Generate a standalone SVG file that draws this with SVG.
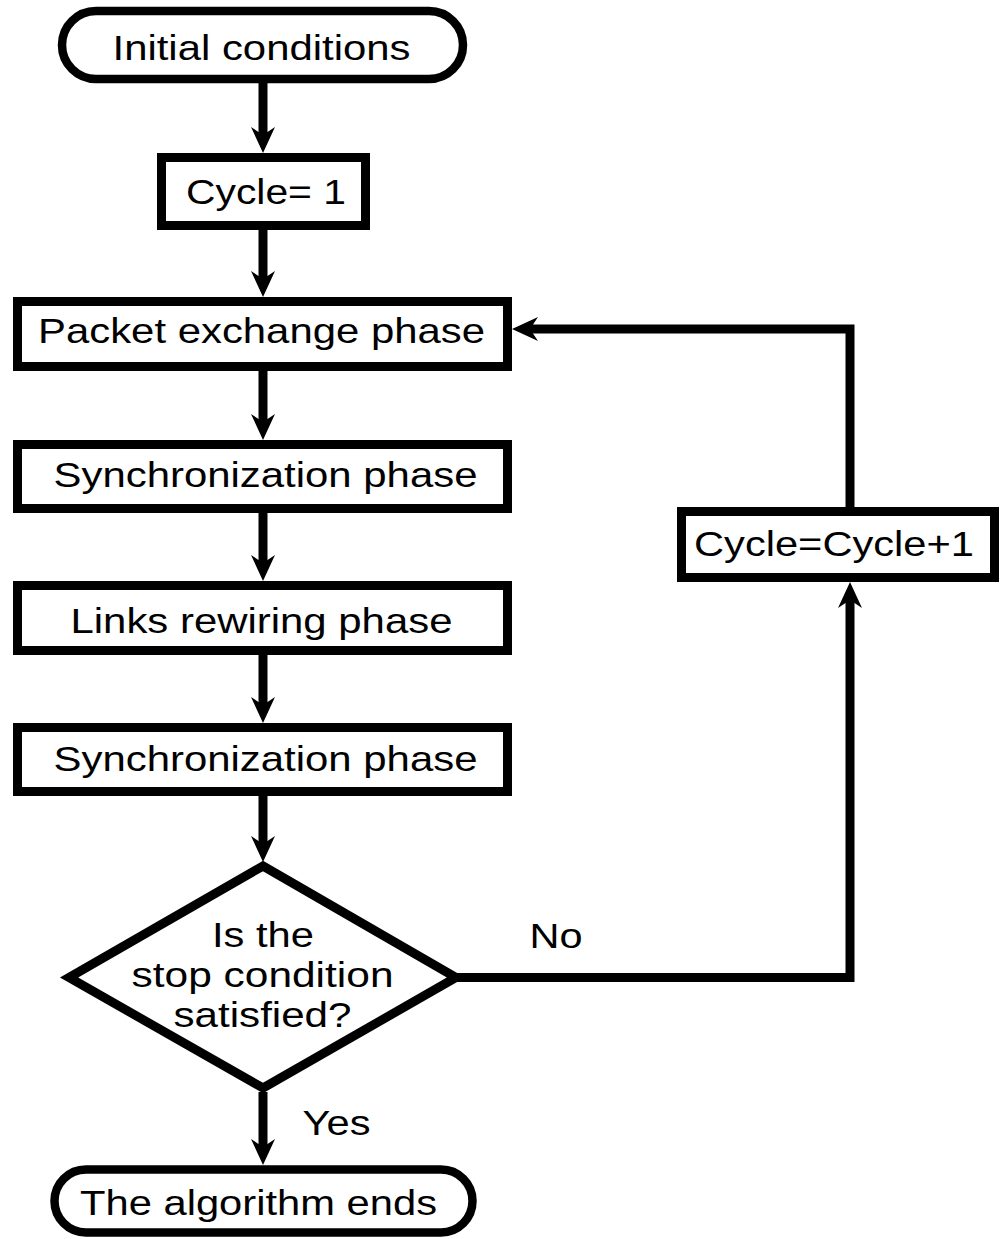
<svg xmlns="http://www.w3.org/2000/svg" width="1005" height="1239" viewBox="0 0 1005 1239">
<style>
.box{fill:#fff;stroke:#000;stroke-width:9}
.term{fill:#fff;stroke:#000;stroke-width:8.5}
.edge{fill:none;stroke:#000;stroke-width:9}
text{font-family:"Liberation Sans",Arial,sans-serif;font-size:35px;fill:#000;text-anchor:middle}
</style>
<defs>
<marker id="ah" viewBox="-13 -13 28 26" refX="0" refY="0" markerWidth="28" markerHeight="26" markerUnits="userSpaceOnUse" orient="auto" overflow="visible">
<path d="M14,0 L-12,-12 L-4,0 L-12,12 Z" fill="#000"/>
</marker>
</defs>
<rect width="1005" height="1239" fill="#fff"/>
<g id="connectors">
<path class="edge" d="M263,83 V139" marker-end="url(#ah)"/>
<path class="edge" d="M263,230 V283" marker-end="url(#ah)"/>
<path class="edge" d="M263,371 V426" marker-end="url(#ah)"/>
<path class="edge" d="M263,513 V567" marker-end="url(#ah)"/>
<path class="edge" d="M263,655 V709" marker-end="url(#ah)"/>
<path class="edge" d="M263,796 V848" marker-end="url(#ah)"/>
<path class="edge" d="M263,1092 V1151" marker-end="url(#ah)"/>
<path class="edge" d="M456,977.5 H850 V596" marker-end="url(#ah)"/>
<path class="edge" d="M850,507 V329 H526" marker-end="url(#ah)"/>
</g>
<g id="start">
<rect class="term" x="62" y="11" width="401" height="68" rx="34"/>
<text x="261.5" y="60" textLength="298" lengthAdjust="spacingAndGlyphs">Initial conditions</text>
</g>
<g id="init">
<rect class="box" x="161.5" y="157.5" width="204" height="68"/>
<text x="266" y="204" textLength="160" lengthAdjust="spacingAndGlyphs">Cycle= 1</text>
</g>
<g id="packet">
<rect class="box" x="17.5" y="301.5" width="490" height="65"/>
<text x="261.5" y="343" textLength="447" lengthAdjust="spacingAndGlyphs">Packet exchange phase</text>
</g>
<g id="sync1">
<rect class="box" x="17.5" y="444.5" width="490" height="64"/>
<text x="265.5" y="487" textLength="424" lengthAdjust="spacingAndGlyphs">Synchronization phase</text>
</g>
<g id="links">
<rect class="box" x="17.5" y="585.5" width="490" height="65"/>
<text x="261.5" y="633" textLength="382" lengthAdjust="spacingAndGlyphs">Links rewiring phase</text>
</g>
<g id="sync2">
<rect class="box" x="17.5" y="727.5" width="490" height="64"/>
<text x="265.5" y="771" textLength="424" lengthAdjust="spacingAndGlyphs">Synchronization phase</text>
</g>
<g id="decision">
<polygon class="box" points="263,866 456,977.5 263,1088 69,977.5"/>
<text x="263" y="947" textLength="102" lengthAdjust="spacingAndGlyphs">Is the</text>
<text x="262.5" y="987" textLength="262" lengthAdjust="spacingAndGlyphs">stop condition</text>
<text x="262.5" y="1027" textLength="178" lengthAdjust="spacingAndGlyphs">satisfied?</text>
</g>
<g id="increment">
<rect class="box" x="681.5" y="511.5" width="313" height="66"/>
<text x="834" y="556" textLength="280" lengthAdjust="spacingAndGlyphs">Cycle=Cycle+1</text>
</g>
<g id="labels">
<text x="556" y="948" textLength="53" lengthAdjust="spacingAndGlyphs">No</text>
<text x="336.5" y="1135" textLength="68" lengthAdjust="spacingAndGlyphs">Yes</text>
</g>
<g id="end">
<rect class="term" x="54.5" y="1169.5" width="418" height="63" rx="31.5"/>
<text x="258.5" y="1215" textLength="357" lengthAdjust="spacingAndGlyphs">The algorithm ends</text>
</g>
</svg>
